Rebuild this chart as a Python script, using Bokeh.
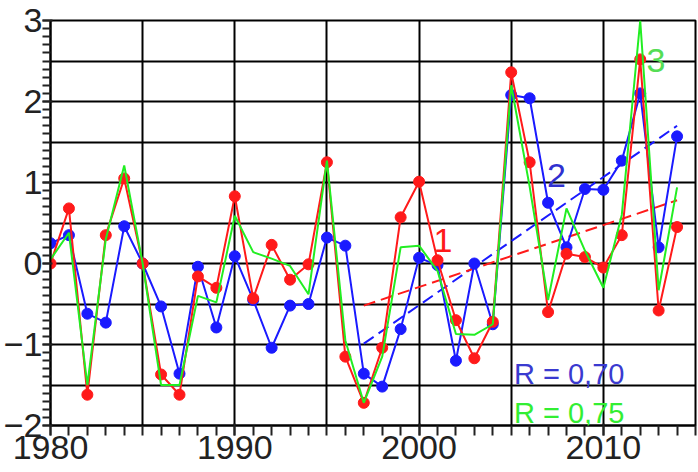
from bokeh.plotting import figure
from bokeh.models import SingleIntervalTicker, Range1d, ColumnDataSource, Label
from bokeh.embed import file_html
from bokeh.resources import INLINE

years = list(range(1980, 2015))
series1 = [0.0, 0.68, -1.62, 0.35, 1.05, 0.0, -1.37, -1.62, -0.16, -0.30,
           0.83, -0.43, 0.23, -0.20, -0.01, 1.25, -1.15, -1.72, -1.04, 0.57,
           1.01, 0.04, -0.70, -1.17, -0.72, 2.36, 1.25, -0.60, 0.12, 0.08,
           -0.05, 0.35, 2.52, -0.58, 0.45]
series2 = [0.25, 0.35, -0.62, -0.73, 0.46, 0.0, -0.53, -1.36, -0.04, -0.79,
           0.09, -0.45, -1.04, -0.52, -0.50, 0.32, 0.22, -1.36, -1.52, -0.81,
           0.07, -0.02, -1.20, 0.0, -0.75, 2.08, 2.04, 0.75, 0.20, 0.92,
           0.91, 1.27, 2.10, 0.20, 1.57]
series3 = [0.05, 0.38, -1.50, 0.30, 1.21, 0.0, -1.50, -1.50, -0.40, -0.48,
           0.59, 0.14, 0.06, -0.03, -0.38, 1.27, -0.95, -1.72, -1.15, 0.20,
           0.22, -0.09, -0.87, -0.88, -0.75, 2.20, 0.95, -0.45, 0.68, 0.16,
           -0.30, 0.60, 3.00, -0.33, 0.94]
trend_years = [1997, 2014]
trend1 = [-0.52, 0.78]
trend2 = [-0.99, 1.70]
curve_labels = ["1", "2", "3"]
r_labels = ["R = 0,70", "R = 0,75"]

RED = "#ff1a1a"
BLUE = "#1a1aff"
GREEN = "#22ee22"
FONT = "Liberation Sans"

src = ColumnDataSource(dict(year=years, s1=series1, s2=series2, s3=series3))

p = figure(width=698, height=472, x_range=Range1d(1980, 2015), y_range=Range1d(-2, 3),
           output_backend="svg", toolbar_location=None,
           min_border_left=45, min_border_right=3, min_border_top=20, min_border_bottom=47)
p.outline_line_color = "black"
p.outline_line_width = 2

p.xaxis.ticker = SingleIntervalTicker(interval=10, num_minor_ticks=10)
p.yaxis.ticker = SingleIntervalTicker(interval=1, num_minor_ticks=10)
p.xgrid.ticker = SingleIntervalTicker(interval=5)
p.ygrid.ticker = SingleIntervalTicker(interval=0.5)
p.grid.grid_line_color = "black"
p.grid.grid_line_width = 2
p.grid.grid_line_alpha = 1.0

p.axis.axis_line_color = "black"
p.axis.axis_line_width = 2
p.axis.major_tick_line_color = "#222222"
p.axis.minor_tick_line_color = "#222222"
p.axis.major_tick_line_width = 2
p.axis.minor_tick_line_width = 2
p.axis.major_label_text_font = FONT
p.axis.major_label_text_font_size = "34px"
p.axis.major_label_text_color = "#222222"
p.axis.major_label_standoff = 0
p.xaxis.major_tick_out = 10
p.xaxis.minor_tick_out = 10
p.yaxis.major_tick_out = 8
p.yaxis.minor_tick_out = 8

# trend lines
p.line(trend_years, trend2, line_color=BLUE, line_width=2, line_dash="12 6")
p.line(trend_years, trend1, line_color=RED, line_width=2, line_dash="12 6")

# series 2 (blue)
p.line("year", "s2", source=src, line_color=BLUE, line_width=2)
p.scatter("year", "s2", source=src, size=11, fill_color=BLUE, line_color=BLUE)
# series 1 (red)
p.line("year", "s1", source=src, line_color=RED, line_width=2)
p.scatter("year", "s1", source=src, size=11, fill_color=RED, line_color=RED)
# series 3 (green), solid
p.line("year", "s3", source=src, line_color=GREEN, line_width=2, line_dash="1000 0")

# curve labels
label_specs = [
    (2001.3, 0.28, curve_labels[0], RED, "34px", "center"),
    (2007.45, 1.09, curve_labels[1], "#3030d0", "34px", "center"),
    (2012.85, 2.51, curve_labels[2], "#55dd55", "34px", "center"),
    (2005.15, -1.36, r_labels[0], "#3a3ad0", "29px", "left"),
    (2005.15, -1.84, r_labels[1], "#33ee33", "29px", "left"),
]
for x, y, t, c, fs, al in label_specs:
    p.add_layout(Label(x=x, y=y, text=t, text_color=c, text_font=FONT,
                       text_font_size=fs, text_align=al, text_baseline="alphabetic"))

open("out.html", "w").write(file_html(p, INLINE))
